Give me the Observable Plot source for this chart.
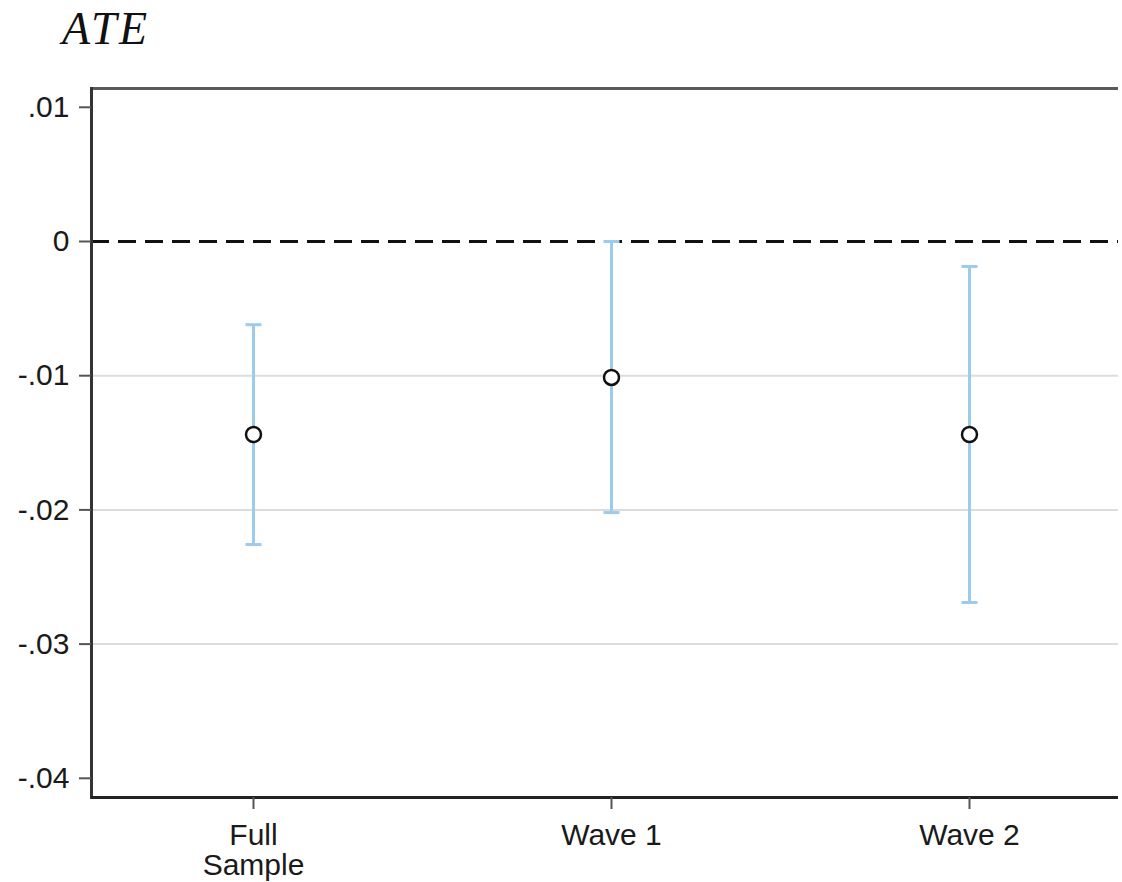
<!DOCTYPE html>
<html>
<head>
<meta charset="utf-8">
<script src="https://cdn.jsdelivr.net/npm/d3@7"></script>
<script src="https://cdn.jsdelivr.net/npm/@observablehq/plot@0.6"></script>
<style>
  body { margin: 0; background: #fff; width: 1122px; height: 882px; overflow: hidden; }
  #title { height: 70px; position: relative; }
  #title span { position: absolute; left: 62px; top: 2px; font-family: "Liberation Serif", "DejaVu Serif", serif; font-style: italic; font-size: 46px; letter-spacing: 2.5px; color: #111; }
  #chart { width: 1118px; overflow: hidden; }
  svg { display: block; max-width: none !important; }
</style>
</head>
<body>
<div id="title"><span>ATE</span></div>
<div id="chart"></div>
<script>
const groups = ["Full\nSample", "Wave 1", "Wave 2"];
const estimates = [-0.01438, -0.01013, -0.01438];
const ciLow = [-0.02258, -0.0202, -0.0269];
const ciHigh = [-0.0062, 0.0, -0.00186];
const yTicks = [0.01, 0, -0.01, -0.02, -0.03, -0.04];
const gridLines = [-0.01, -0.02, -0.03];
const yMin = -0.04143, yMax = 0.0114;
const xMin = -0.4525, xMax = 2.4274;

const data = groups.map((g, i) => ({pos: i, group: g, est: estimates[i], lo: ciLow[i], hi: ciHigh[i]}));

const capSymbol = { draw(ctx) { ctx.moveTo(-8, 0); ctx.lineTo(8, 0); } };
const blue = "#9ccbec";
const fmt = d => d === 0 ? "0" : d3.format(".2f")(d).replace("0.", ".").replace("\u2212", "-");

const chart = Plot.plot({
  width: 1122,
  height: 812,
  marginTop: 18,
  marginBottom: 85,
  marginLeft: 91,
  marginRight: 0,
  style: { fontFamily: "'Liberation Sans', Arial, sans-serif", fontSize: "30px", color: "#1a1a1a", background: "white" },
  x: { domain: [xMin, xMax] },
  y: { domain: [yMin, yMax] },
  marks: [
    Plot.ruleY(gridLines, { stroke: "#dcdcdc", strokeWidth: 2 }),
    Plot.ruleY([0], { stroke: "#111", strokeWidth: 3, strokeDasharray: "18,9" }),
    Plot.ruleX(data, { x: "pos", y1: "lo", y2: "hi", stroke: blue, strokeWidth: 3 }),
    Plot.dot(data, { x: "pos", y: "lo", symbol: capSymbol, stroke: blue, strokeWidth: 3 }),
    Plot.dot(data, { x: "pos", y: "hi", symbol: capSymbol, stroke: blue, strokeWidth: 3 }),
    Plot.dot(data, { x: "pos", y: "est", r: 7.5, stroke: "#111", strokeWidth: 2.5, fill: "white" }),
    Plot.ruleY([yMax], { stroke: "#5a5a5a", strokeWidth: 3 }),
    Plot.link([{x: xMin, y1: yMin, y2: yMax}], { x1: "x", x2: "x", y1: "y1", y2: "y2", stroke: "#333", strokeWidth: 3, strokeLinecap: "square" }),
    Plot.ruleY([yMin], { stroke: "#222", strokeWidth: 3 }),
    Plot.axisY({ ticks: yTicks, tickFormat: fmt, tickSize: 12, tickPadding: 10, label: null, stroke: "#555", strokeWidth: 2, fontSize: 30 }),
    Plot.axisX({ ticks: data.map(d => d.pos), tickFormat: i => groups[i], tickSize: 12, tickPadding: 14, label: null, stroke: "#555", strokeWidth: 2, fontSize: 30 })
  ]
});
document.getElementById("chart").appendChild(chart);
</script>
</body>
</html>
